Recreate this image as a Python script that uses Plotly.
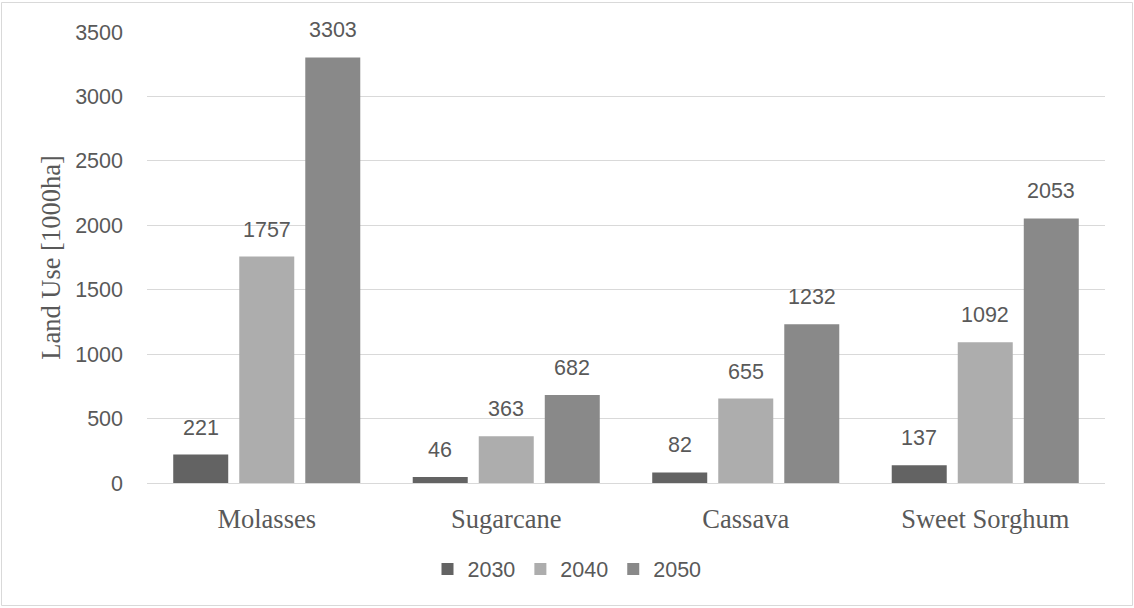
import plotly.graph_objects as go

categories = ["Molasses", "Sugarcane", "Cassava", "Sweet Sorghum"]
years = ["2030", "2040", "2050"]
values_2030 = [221, 46, 82, 137]
values_2040 = [1757, 363, 655, 1092]
values_2050 = [3303, 682, 1232, 2053]
y_ticks = [0, 500, 1000, 1500, 2000, 2500, 3000, 3500]

series = [values_2030, values_2040, values_2050]
colors = ["#636363", "#adadad", "#898989"]

W, H = 1134, 608
ML, MR, MT, MB = 147, 29, 32, 125
plot_w = W - ML - MR
bargap = 0.173
slot_px = plot_w / len(categories) * (1 - bargap) / 3

num_font = dict(family="Liberation Sans, Arial, sans-serif", size=21.5, color="#595959")
serif_font = dict(family="Liberation Serif, Times New Roman, serif", size=26.5, color="#595959")

fig = go.Figure()
for name, vals, col in zip(years, series, colors):
    fig.add_trace(go.Bar(x=categories, y=vals, name=name,
                         marker=dict(color=col, line=dict(width=0))))

annotations = []
for i, vals in enumerate(series):
    for cat, v in zip(categories, vals):
        annotations.append(dict(x=cat, y=v, text=str(v), showarrow=False,
                                xref="x", yref="y", yanchor="bottom",
                                xshift=(i - 1) * slot_px, yshift=13,
                                font=num_font))

plot_h = H - MT - MB
fig.update_layout(
    width=W, height=H, autosize=False,
    margin=dict(l=ML, r=MR, t=MT, b=MB),
    paper_bgcolor="white", plot_bgcolor="white",
    barmode="group", bargap=bargap, bargroupgap=0.167,
    annotations=annotations,
    showlegend=True,
    legend=dict(orientation="h", x=(567 - ML) / plot_w, xanchor="center",
                y=(MT + plot_h - 569) / plot_h, yanchor="middle",
                font=num_font, itemwidth=30, traceorder="normal"),
    shapes=[dict(type="rect", xref="paper", yref="paper",
                 x0=(1.5 - ML) / plot_w, x1=(1132.5 - ML) / plot_w,
                 y0=(MT + plot_h - 605.5) / plot_h, y1=(MT + plot_h - 2.5) / plot_h,
                 line=dict(color="#d9d9d9", width=1), layer="below")],
)
fig.update_yaxes(range=[0, 3500], tickvals=y_ticks, showgrid=True,
                 gridcolor="#d9d9d9", gridwidth=1, zeroline=False,
                 showline=False, ticks="", tickfont=num_font,
                 ticklabelstandoff=23,
                 title=dict(text="Land Use [1000ha]", font=serif_font, standoff=6))
fig.update_xaxes(showline=True, linecolor="#d9d9d9", linewidth=1, ticks="",
                 tickfont=serif_font, ticklabelstandoff=12)

fig.write_html("out.html")
